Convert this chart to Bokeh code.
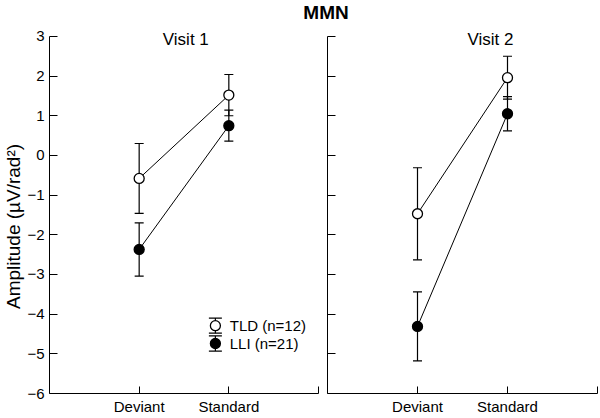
from bokeh.plotting import figure
from bokeh.layouts import column, row
from bokeh.models import FixedTicker, Whisker, TeeHead, ColumnDataSource, Label, Range1d
from bokeh.core.properties import value
from bokeh.embed import file_html
from bokeh.resources import INLINE

# ---------------- data ----------------
categories = ["Deviant", "Standard"]
x_pos = [1, 2]
y_ticks = [-6, -5, -4, -3, -2, -1, 0, 1, 2, 3]
groups = ["TLD (n=12)", "LLI (n=21)"]
panel_titles = ["Visit 1", "Visit 2"]
y_label = "Amplitude (\u00b5V/rad\u00b2)"

v1_tld_mean = [-0.58, 1.52]
v1_tld_err = [0.88, 0.52]
v1_lli_mean = [-2.37, 0.75]
v1_lli_err = [0.67, 0.39]

v2_tld_mean = [-1.47, 1.96]
v2_tld_err = [1.16, 0.54]
v2_lli_mean = [-4.31, 1.05]
v2_lli_err = [0.87, 0.43]

# ---------------- style / layout ----------------
FONT = "Liberation Sans"
P1_W = 322
P2_W = 277
PANEL_H = 395
HEAD_H = 22
Y_TOP = 3.35          # frame extends a bit above the axis so the panel titles fit
TITLE_X = [1.52, 1.81]
LEG_X = 1.85
LEG_TEXT_X = 2.01
LEG_Y = [-4.29, -4.74]
LEG_HALF = 0.19
LABEL_PAD = "\u00a0" * 7   # nudges the axis title down to where the original sits


def add_series(p, means, errs, filled):
    up = [m + e for m, e in zip(means, errs)]
    lo = [m - e for m, e in zip(means, errs)]
    src = ColumnDataSource(dict(x=x_pos, y=means, upper=up, lower=lo))
    p.add_layout(Whisker(source=src, base="x", upper="upper", lower="lower",
                         dimension="height", line_color="black", line_width=1.2,
                         upper_head=TeeHead(size=9, line_color="black", line_width=1.2),
                         lower_head=TeeHead(size=9, line_color="black", line_width=1.2)))
    p.line("x", "y", source=src, line_color="black", line_width=1)
    p.scatter("x", "y", source=src, size=10, marker="circle",
              fill_color="black" if filled else "white",
              line_color="black", line_width=1.3)


def make_panel(idx, tld_mean, tld_err, lli_mean, lli_err):
    first = idx == 0
    p = figure(width=P1_W if first else P2_W, height=PANEL_H, title=None,
               x_range=Range1d(0, 3), y_range=Range1d(-6, Y_TOP),
               output_backend="svg", toolbar_location=None,
               min_border_top=0, min_border_bottom=5,
               min_border_left=5, min_border_right=4 if first else 2,
               outline_line_color=None, background_fill_color="white")
    p.grid.visible = False

    xa = p.xaxis[0]
    xa.ticker = FixedTicker(ticks=x_pos, minor_ticks=[3])
    xa.major_label_overrides = {1: categories[0], 2: categories[1]}
    xa.major_tick_in = 7
    xa.major_tick_out = 0
    xa.minor_tick_in = 7
    xa.minor_tick_out = 0
    xa.minor_tick_line_color = "black"
    xa.major_label_standoff = 4
    xa.major_label_text_font = FONT
    xa.major_label_text_font_size = "15px"
    xa.major_label_text_color = "black"
    xa.axis_line_color = "black"
    xa.major_tick_line_color = "black"
    xa.bounds = (0, 3)

    ya = p.yaxis[0]
    ya.major_tick_in = 8
    ya.major_tick_out = 0
    ya.minor_tick_in = 8
    ya.minor_tick_out = 0
    ya.axis_line_color = "black"
    ya.major_tick_line_color = "black"
    ya.minor_tick_line_color = "black"
    ya.bounds = (-6, 3)
    if first:
        ya.ticker = FixedTicker(ticks=y_ticks)
        ya.major_label_standoff = 5
        ya.major_label_text_font = FONT
        ya.major_label_text_font_size = "15px"
        ya.major_label_text_color = "black"
        ya.axis_label = y_label + LABEL_PAD
        ya.axis_label_text_font = FONT
        ya.axis_label_text_font_size = "19px"
        ya.axis_label_text_font_style = "normal"
        ya.axis_label_text_color = "black"
        ya.axis_label_standoff = 0
    else:
        ya.ticker = FixedTicker(ticks=[], minor_ticks=y_ticks)
        ya.major_label_standoff = 0

    add_series(p, tld_mean, tld_err, filled=False)
    add_series(p, lli_mean, lli_err, filled=True)

    p.add_layout(Label(x=TITLE_X[idx], y=3, y_offset=-3, text=panel_titles[idx],
                       text_align="center", text_baseline="alphabetic",
                       text_font=FONT, text_font_size="17px", text_color="black"))

    if first:
        lsrc = ColumnDataSource(dict(x=[LEG_X, LEG_X], y=LEG_Y,
                                     upper=[v + LEG_HALF for v in LEG_Y],
                                     lower=[v - LEG_HALF for v in LEG_Y],
                                     tx=[LEG_TEXT_X, LEG_TEXT_X], label=groups,
                                     fill=["white", "black"]))
        p.add_layout(Whisker(source=lsrc, base="x", upper="upper", lower="lower",
                             dimension="height", line_color="black", line_width=1.2,
                             upper_head=TeeHead(size=13, line_color="black", line_width=1.2),
                             lower_head=TeeHead(size=13, line_color="black", line_width=1.2)))
        p.scatter("x", "y", source=lsrc, size=10, marker="circle",
                  fill_color="fill", line_color="black", line_width=1.3)
        p.text("tx", "y", text="label", source=lsrc, text_font=value(FONT),
               text_font_size="15px", text_baseline="middle", text_align="left",
               text_color="black")
    return p


p1 = make_panel(0, v1_tld_mean, v1_tld_err, v1_lli_mean, v1_lli_err)
p2 = make_panel(1, v2_tld_mean, v2_tld_err, v2_lli_mean, v2_lli_err)

TOTAL_W = P1_W + P2_W
pt = figure(width=TOTAL_W, height=HEAD_H, title=None,
            x_range=Range1d(0, TOTAL_W), y_range=Range1d(0, HEAD_H),
            output_backend="svg", toolbar_location=None, min_border=0,
            x_axis_location=None, y_axis_location=None, outline_line_color=None)
pt.grid.visible = False
pt.add_layout(Label(x=325.5, y=10.5, text="MMN", text_align="center", text_baseline="middle",
                    text_font=FONT, text_font_size="19px", text_font_style="bold",
                    text_color="black"))

layout = column(pt, row(p1, p2))
open("out.html", "w").write(file_html(layout, INLINE))
